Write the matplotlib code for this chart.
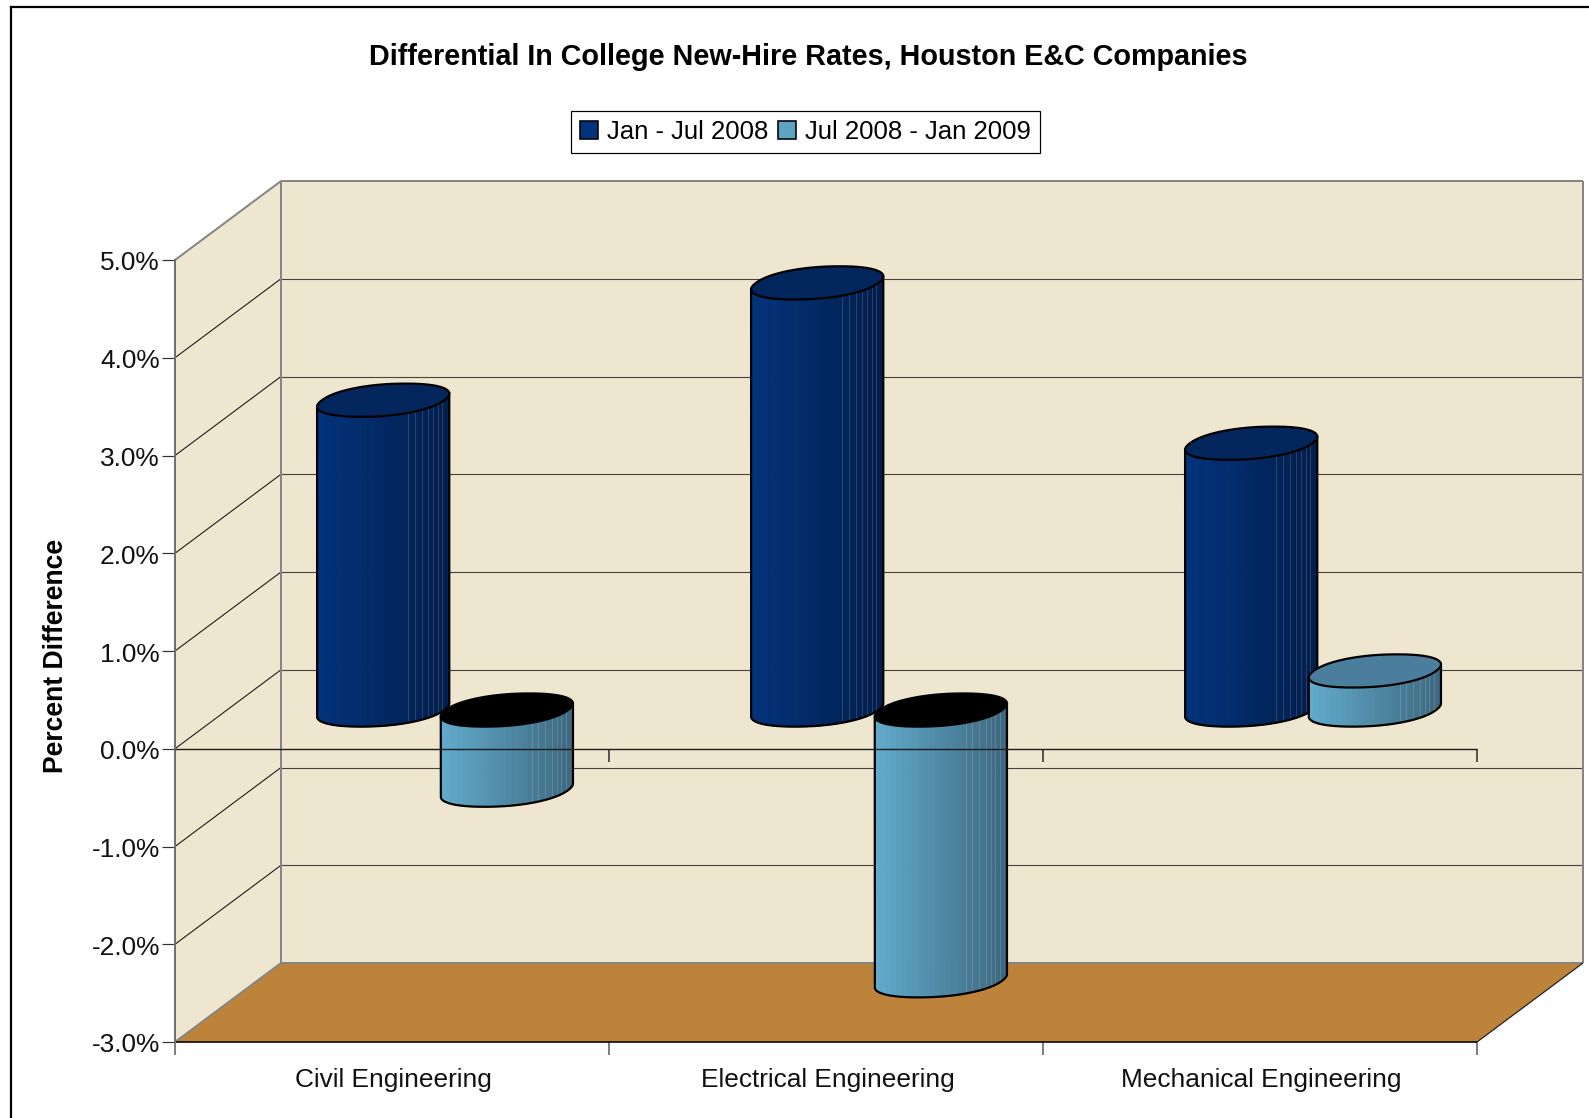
import numpy as np
import matplotlib
matplotlib.use("Agg")
import matplotlib.pyplot as plt
from matplotlib.lines import Line2D
from matplotlib.patches import Patch
from matplotlib.colors import to_rgb
from matplotlib.transforms import ScaledTranslation

plt.rcParams['font.family'] = ['Liberation Sans', 'DejaVu Sans']

categories = ["Civil Engineering", "Electrical Engineering", "Mechanical Engineering"]
series_names = ["Jan - Jul 2008", "Jul 2008 - Jan 2009"]
first_half = [3.17, 4.37, 2.73]
second_half = [-0.82, -2.77, 0.40]
y_ticks = [-3, -2, -1, 0, 1, 2, 3, 4, 5]
title = "Differential In College New-Hire Rates, Houston E&C Companies"
y_label = "Percent Difference"

W, H = 1589, 1118
WALL = "#EEE6CE"
FLOOR = "#BD833B"
EDGE = "#858585"
NAVY = ("#03337C", "#021E4B", "#03275C")
STEEL = ("#63ABCD", "#3D687F", "#4A7E9C")
PX = 0.72  # one pixel, in points, at 100 dpi

# Oblique projection: depth 1 moves a point to the back wall of the box
DEPTH_X = 106 / 434
DEPTH_Y = 79 / 97.75
BAR_DEPTH, DEPTH_RADIUS = 0.49, 0.21
X_RADIUS = 0.141
ROUNDNESS = 0.92
SLOT_OFFSETS = (0.36, 0.645)
RIM_FRACTIONS = (0.688, 0.738, 0.791, 0.842, 0.877, 0.912, 0.945)


def proj(cat, val, depth=0.0):
    return cat + depth * DEPTH_X, val + depth * DEPTH_Y


fig = plt.figure(figsize=(W / 100, H / 100), dpi=100, facecolor="white")
ax = fig.add_axes([175 / W, 1 - 1042 / H, 1302 / W, 782 / H])
ax.set_xlim(0, 3)
ax.set_ylim(-3, 5)
ax.patch.set_visible(False)
for side in ("top", "right", "bottom"):
    ax.spines[side].set_visible(False)
ax.spines["left"].set_color("#707070")
ax.spines["left"].set_linewidth(2 * PX)
ax.spines["left"].set_zorder(8)


def poly(points, **kw):
    xs, ys = zip(*points)
    ax.fill(xs, ys, clip_on=False, **kw)


def seg(a, b, color="#1c1c1c", lw=1.1, z=2):
    ax.plot([a[0], b[0]], [a[1], b[1]], color=color, lw=lw * PX, clip_on=False,
            zorder=z, solid_capstyle="butt")


# Walls and floor of the box
poly([proj(0, 5), proj(0, 5, 1), proj(0, -3, 1), proj(0, -3)], color=WALL, lw=0, zorder=1)
poly([proj(0, 5, 1), proj(3, 5, 1), proj(3, -3, 1), proj(0, -3, 1)], color=WALL, lw=0, zorder=1)
poly([proj(0, -3), proj(3, -3), proj(3, -3, 1), proj(0, -3, 1)], color=FLOOR, lw=0, zorder=1)

for v in y_ticks[1:-1]:
    seg(proj(0, v), proj(0, v, 1))
    seg(proj(0, v, 1), proj(3, v, 1), color="#45433c")

seg(proj(0, 5), proj(0, 5, 1), color=EDGE, lw=2)
seg(proj(0, 5, 1), proj(3, 5, 1), color=EDGE, lw=2)
seg(proj(0, 5, 1), proj(0, -3, 1), color=EDGE, lw=2)
seg(proj(3, 5, 1), proj(3, -3, 1), color=EDGE, lw=2)
seg(proj(0, -3, 1), proj(3, -3, 1), color=EDGE, lw=2)
seg(proj(0, -3), proj(0, -3, 1), color=EDGE, lw=2)
seg(proj(3, -3), proj(3, -3, 1), color="#1c1c1c", lw=1.2)
seg(proj(0, -3), proj(3, -3), color="black", lw=1.6, z=3)

# Zero line with its category ticks; the line stays visible across the bars
seg(proj(0, 0), proj(3, 0), color="#1c1c1c", lw=1.4, z=20)
for k in (1, 2, 3):
    seg(proj(k, 0), proj(k, -0.133), color="#333333", lw=1.6, z=3)


def rim(center, level, t):
    c, s = np.cos(t), np.sin(t)
    c = np.sign(c) * np.abs(c) ** ROUNDNESS
    s = np.sign(s) * np.abs(s) ** ROUNDNESS
    return proj(center + X_RADIUS * c, level, BAR_DEPTH + DEPTH_RADIUS * s)


def cylinder(center, value, colors, z):
    left, right = (np.array(to_rgb(c)) for c in colors[:2])
    top, bottom = max(value, 0), min(value, 0)
    dense = np.linspace(0, 2 * np.pi, 1441)
    xs_rim = np.array([rim(center, 0, t)[0] for t in dense])
    t_left, t_right = dense[xs_rim.argmin()], dense[xs_rim.argmax()]
    if t_right < t_left:
        t_right += 2 * np.pi
    sweep = np.linspace(t_left, t_right, 721)
    x_sweep = np.array([rim(center, 0, t)[0] for t in sweep])
    x_frac = (x_sweep - x_sweep[0]) / (x_sweep[-1] - x_sweep[0])

    def t_at(f):
        return np.interp(f, x_frac, sweep)

    # Side wall, shaded in even strips across its visible width
    edges = np.linspace(0, 1, 25)
    for a, b in zip(edges[:-1], edges[1:]):
        seg_t = sweep[(x_frac >= a) & (x_frac <= b)]
        lower = [rim(center, bottom, t) for t in seg_t]
        upper = [rim(center, top, t) for t in seg_t[::-1]]
        mid = 0.5 * (a + b)
        poly(lower + upper, color=tuple(left + (right - left) * mid), lw=0.9, zorder=z)
    # Pale facet seams on the shaded side
    for f in RIM_FRACTIONS:
        t = t_at(f)
        a, b = rim(center, bottom, t), rim(center, top, t)
        ax.plot([a[0], b[0]], [a[1], b[1]], color="white", alpha=0.15, lw=1 * PX,
                clip_on=False, zorder=z)
    # Silhouette of the side wall
    outline = [rim(center, top, sweep[0])] + [rim(center, bottom, t) for t in sweep[::4]] \
        + [rim(center, bottom, sweep[-1]), rim(center, top, sweep[-1])]
    xs, ys = zip(*outline)
    ax.plot(xs, ys, color="black", lw=2.2 * PX, clip_on=False, zorder=z)
    # Top cap: black when looking into a bar that hangs below zero
    cap_pts = [rim(center, top, t) for t in dense[::8]]
    poly(cap_pts, facecolor="black" if value < 0 else colors[2], edgecolor="black",
         lw=2.2 * PX, zorder=z)


for i in range(len(categories)):
    cylinder(i + SLOT_OFFSETS[0], first_half[i], NAVY, 4 + i * 2)
    cylinder(i + SLOT_OFFSETS[1], second_half[i], STEEL, 5 + i * 2)

# Axis ticks and labels
ax.set_yticks(y_ticks)
ax.set_yticklabels([f"{v:.1f}%" for v in y_ticks], fontsize=18.95, color="#111111")
ax.tick_params(axis="y", length=13 * PX, width=1.2 * PX, color="#333333", pad=1.6)
nudge = ScaledTranslation(0, -1.0 / 100, fig.dpi_scale_trans)
for lab in ax.get_yticklabels():
    lab.set_transform(lab.get_transform() + nudge)
ax.set_xticks([0, 1, 2, 3])
ax.set_xticklabels([])
ax.tick_params(axis="x", which="major", length=13 * PX, width=2 * PX, color="#808080")
ax.set_xticks([0.5, 1.5, 2.5], minor=True)
ax.set_xticklabels(categories, minor=True, fontsize=18.95, color="#111111")
ax.tick_params(axis="x", which="minor", length=0, pad=19)
shift = ScaledTranslation(1.5 / 100, 0, fig.dpi_scale_trans)
for lab in ax.get_xticklabels(minor=True):
    lab.set_transform(lab.get_transform() + shift)

fig.text(808 / W, 1 - 57 / H, title, ha="center", va="center", fontsize=20.7,
         fontweight="bold", color="black")
fig.text(56 / W, 1 - 656 / H, y_label, ha="center", va="center", rotation=90,
         fontsize=19.1, fontweight="bold", color="black")

handles = [Patch(facecolor=NAVY[0], edgecolor="black", lw=1.6 * PX),
           Patch(facecolor="#5FA3C4", edgecolor="black", lw=1.6 * PX)]
leg = fig.legend(handles, series_names, loc="center", bbox_to_anchor=(805.5 / W, 1 - 132 / H),
                 ncols=2, fontsize=18.55, frameon=True, fancybox=False, edgecolor="black",
                 framealpha=1, handlelength=0.7, handleheight=0.7, handletextpad=0.33,
                 columnspacing=0.38, borderpad=0.36, borderaxespad=0)
leg.get_frame().set_linewidth(1.2 * PX)

# Outer chart frame runs off the right and bottom edges
fig.add_artist(Line2D([11 / W, 11 / W], [0, 1 - 7 / H], color="black", lw=2.2 * PX))
fig.add_artist(Line2D([11 / W, 1], [1 - 7 / H, 1 - 7 / H], color="black", lw=2.2 * PX))

fig.savefig("out.png", dpi=100)
